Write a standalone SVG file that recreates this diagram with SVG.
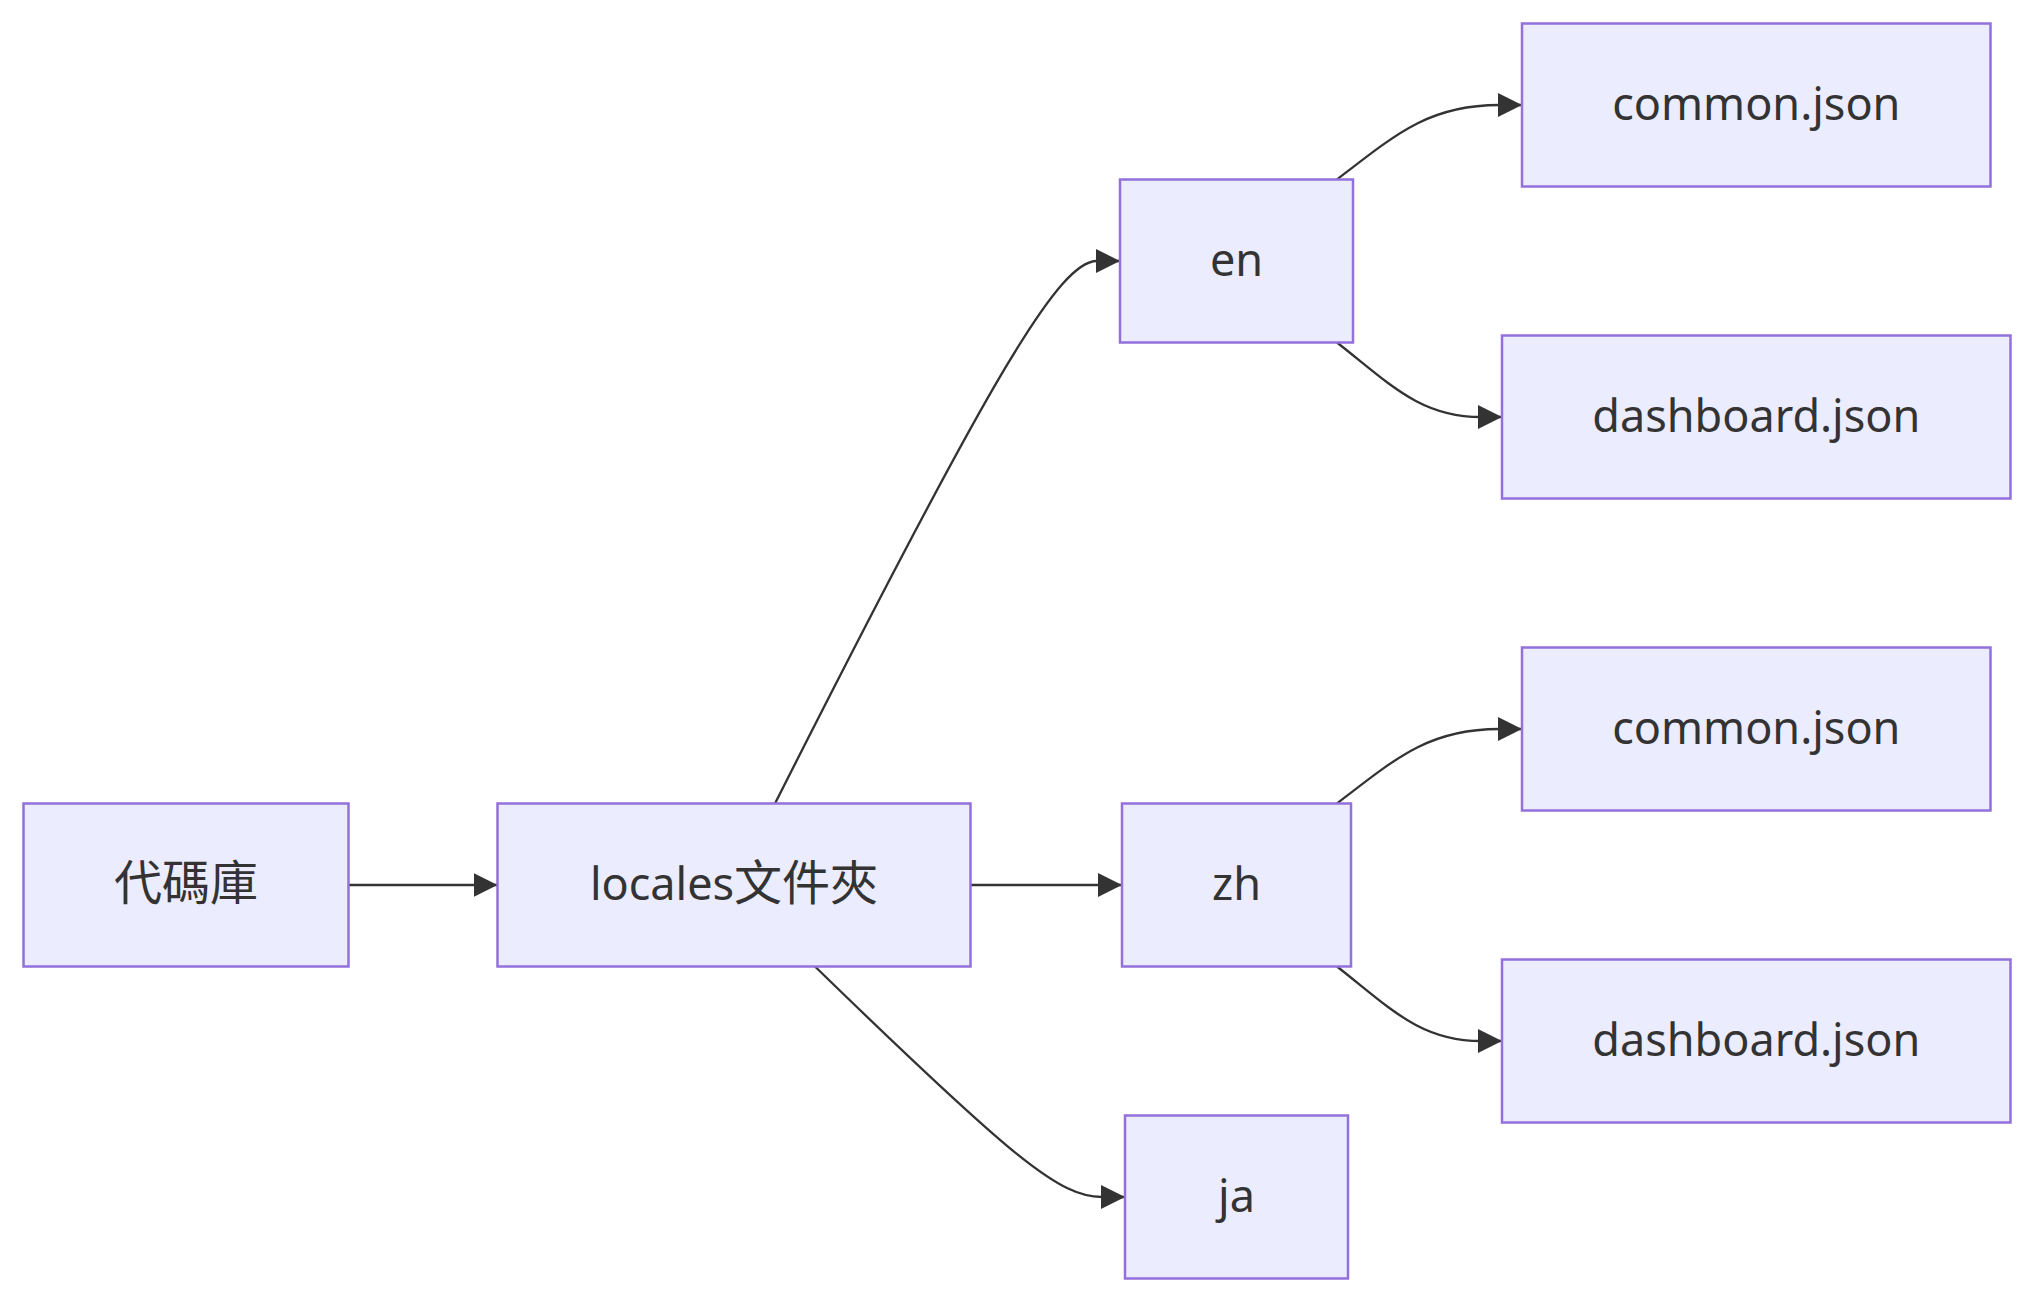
<svg xmlns="http://www.w3.org/2000/svg" width="2034" height="1302" viewBox="0 0 2034 1302">
<style>
.node rect{fill:#ECECFF;stroke:#9370DB;stroke-width:2.5}
.node text{font-family:"Noto Sans","Noto Sans CJK TC",sans-serif;font-size:45px;fill:#333333;text-anchor:middle}
.cjk{font-size:48px}
.edge{fill:none;stroke:#333333;stroke-width:2.3}
</style>
<defs>
<marker id="arrow" markerUnits="userSpaceOnUse" markerWidth="24" markerHeight="24" viewBox="0 0 10 10" refX="10" refY="5" orient="auto">
<path d="M0,0 L10,5 L0,10 z" fill="#333333"/>
</marker>
</defs>
<rect width="2034" height="1302" fill="#ffffff"/>
<g id="connectors">
<path class="edge" d="M348.5,885 L497.5,885" marker-end="url(#arrow)"/>
<path class="edge" d="M775,803.5 C995,368 1060,261 1097,261 L1120,261" marker-end="url(#arrow)"/>
<path class="edge" d="M970.5,885 L1122,885" marker-end="url(#arrow)"/>
<path class="edge" d="M815,966.5 C1015,1161 1060,1197 1102,1197 L1125,1197" marker-end="url(#arrow)"/>
<path class="edge" d="M1337,179.5 C1397,133 1430,105 1499,105 L1522,105" marker-end="url(#arrow)"/>
<path class="edge" d="M1337,342.5 C1390,384 1420,417 1481,417 L1502,417" marker-end="url(#arrow)"/>
<path class="edge" d="M1337,803.5 C1397,757 1430,729 1499,729 L1522,729" marker-end="url(#arrow)"/>
<path class="edge" d="M1337,966.5 C1390,1008 1420,1041 1481,1041 L1502,1041" marker-end="url(#arrow)"/>
</g>
<g id="node-repo" class="node">
<rect x="23.5" y="803.5" width="325" height="163"/>
<text x="186" y="900"><tspan class="cjk">代碼庫</tspan></text>
</g>
<g id="node-locales" class="node">
<rect x="497.5" y="803.5" width="473" height="163"/>
<text x="734" y="900">locales<tspan class="cjk">文件夾</tspan></text>
</g>
<g id="node-en" class="node">
<rect x="1120" y="179.5" width="233" height="163"/>
<text x="1236.5" y="276">en</text>
</g>
<g id="node-zh" class="node">
<rect x="1122" y="803.5" width="229" height="163"/>
<text x="1236.5" y="900">zh</text>
</g>
<g id="node-ja" class="node">
<rect x="1125" y="1115.5" width="223" height="163"/>
<text x="1236.5" y="1212">ja</text>
</g>
<g id="node-en-common" class="node">
<rect x="1522" y="23.5" width="468.5" height="163"/>
<text x="1756.3" y="120">common.json</text>
</g>
<g id="node-en-dashboard" class="node">
<rect x="1502" y="335.5" width="508.5" height="163"/>
<text x="1756.3" y="432">dashboard.json</text>
</g>
<g id="node-zh-common" class="node">
<rect x="1522" y="647.5" width="468.5" height="163"/>
<text x="1756.3" y="744">common.json</text>
</g>
<g id="node-zh-dashboard" class="node">
<rect x="1502" y="959.5" width="508.5" height="163"/>
<text x="1756.3" y="1056">dashboard.json</text>
</g>
</svg>
